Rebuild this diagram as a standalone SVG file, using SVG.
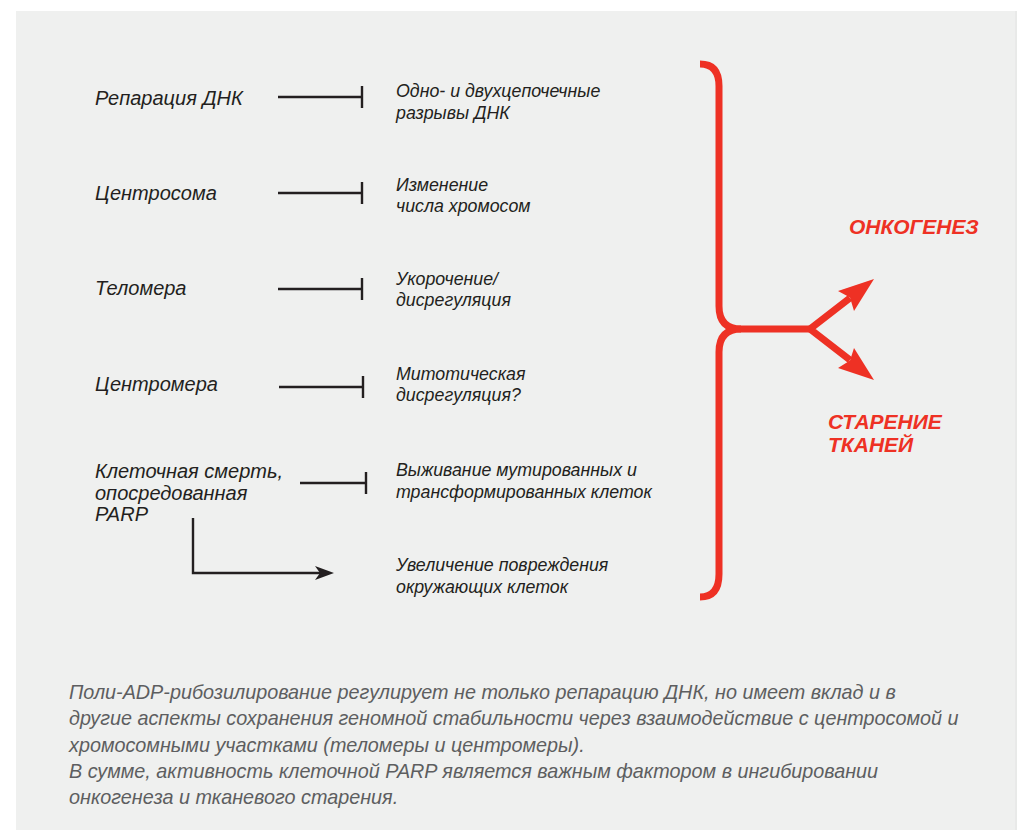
<svg xmlns="http://www.w3.org/2000/svg" width="1017" height="830" viewBox="0 0 1017 830">
<style>
.lbl{font-family:"Liberation Sans",Arial,sans-serif;font-style:italic;font-size:20px;fill:#231f20}
.sub{font-family:"Liberation Sans",Arial,sans-serif;font-style:italic;font-size:17.8px;fill:#231f20}
.red{font-family:"Liberation Sans",Arial,sans-serif;font-style:italic;font-weight:bold;font-size:21px;fill:#ee3124}
.cap{font-family:"Liberation Sans",Arial,sans-serif;font-style:italic;font-size:19.8px;fill:#5d5e60}
.inh{stroke:#231f20;stroke-width:2.4;fill:none}
.brace{stroke:#ee3124;stroke-width:7;fill:none;stroke-linecap:butt}
</style>
<rect x="16" y="11" width="1001" height="819" fill="#eff0ef"/>
<line x1="1016" y1="11" x2="1016" y2="830" stroke="#e2e3e2" stroke-width="1"/>

<g id="node-repair"><text class="lbl" x="95" y="105">Репарация ДНК</text></g>
<g id="node-breaks"><text class="sub" x="396" y="97">Одно- и двухцепочечные</text><text class="sub" x="396" y="119">разрывы ДНК</text></g>
<g id="node-centrosome"><text class="lbl" x="95" y="200">Центросома</text></g>
<g id="node-chromnum"><text class="sub" x="396" y="191">Изменение</text><text class="sub" x="396" y="212">числа хромосом</text></g>
<g id="node-telomere"><text class="lbl" x="95" y="295">Теломера</text></g>
<g id="node-shortening"><text class="sub" x="396" y="285">Укорочение/</text><text class="sub" x="396" y="306">дисрегуляция</text></g>
<g id="node-centromere"><text class="lbl" x="95" y="391">Центромера</text></g>
<g id="node-mitotic"><text class="sub" x="396" y="380">Митотическая</text><text class="sub" x="396" y="401">дисрегуляция?</text></g>
<g id="node-death"><text class="lbl" x="95" y="478">Клеточная смерть,</text><text class="lbl" x="95" y="500">опосредованная</text><text class="lbl" x="95" y="521">PARP</text></g>
<g id="node-survival"><text class="sub" x="396" y="476">Выживание мутированных и</text><text class="sub" x="396" y="498">трансформированных клеток</text></g>
<g id="node-damage"><text class="sub" x="396" y="571">Увеличение повреждения</text><text class="sub" x="396" y="593">окружающих клеток</text></g>
<g id="node-oncogenesis"><text class="red" x="849" y="234">ОНКОГЕНЕЗ</text></g>
<g id="node-aging"><text class="red" x="828" y="429">СТАРЕНИЕ</text><text class="red" x="828" y="452">ТКАНЕЙ</text></g>

<g id="connectors">
<path class="inh" d="M278,97H362M362,86V108"/>
<path class="inh" d="M278,193H362M362,182V204"/>
<path class="inh" d="M278,289H362M362,278V300"/>
<path class="inh" d="M279,387H363M363,376V398"/>
<path class="inh" d="M300,483H366M366,472V494"/>
<path class="inh" d="M193,518V573H321"/>
<polygon points="334,573 315,566 320,573 315,580" fill="#231f20"/>
<path class="brace" d="M700,64Q719,64 719,86V306Q719,329 741,329H810"/>
<path class="brace" d="M741,329Q719,329 719,352V574Q719,597 700,597"/>
<path class="brace" d="M810,329L850,298M810,329L850,360"/>
<polygon points="874,279 838,291 850,297.5 854,311" fill="#ee3124"/>
<polygon points="874,380 854,348 850,360.5 838,368" fill="#ee3124"/>
</g>

<g id="caption">
<text class="cap" x="69" y="699">Поли-ADP-рибозилирование регулирует не только репарацию ДНК, но имеет вклад и в</text>
<text class="cap" x="69" y="725">другие аспекты сохранения геномной стабильности через взаимодействие с центросомой и</text>
<text class="cap" x="69" y="752">хромосомными участками (теломеры и центромеры).</text>
<text class="cap" x="69" y="778">В сумме, активность клеточной PARP является важным фактором в ингибировании</text>
<text class="cap" x="69" y="804">онкогенеза и тканевого старения.</text>
</g>
</svg>
